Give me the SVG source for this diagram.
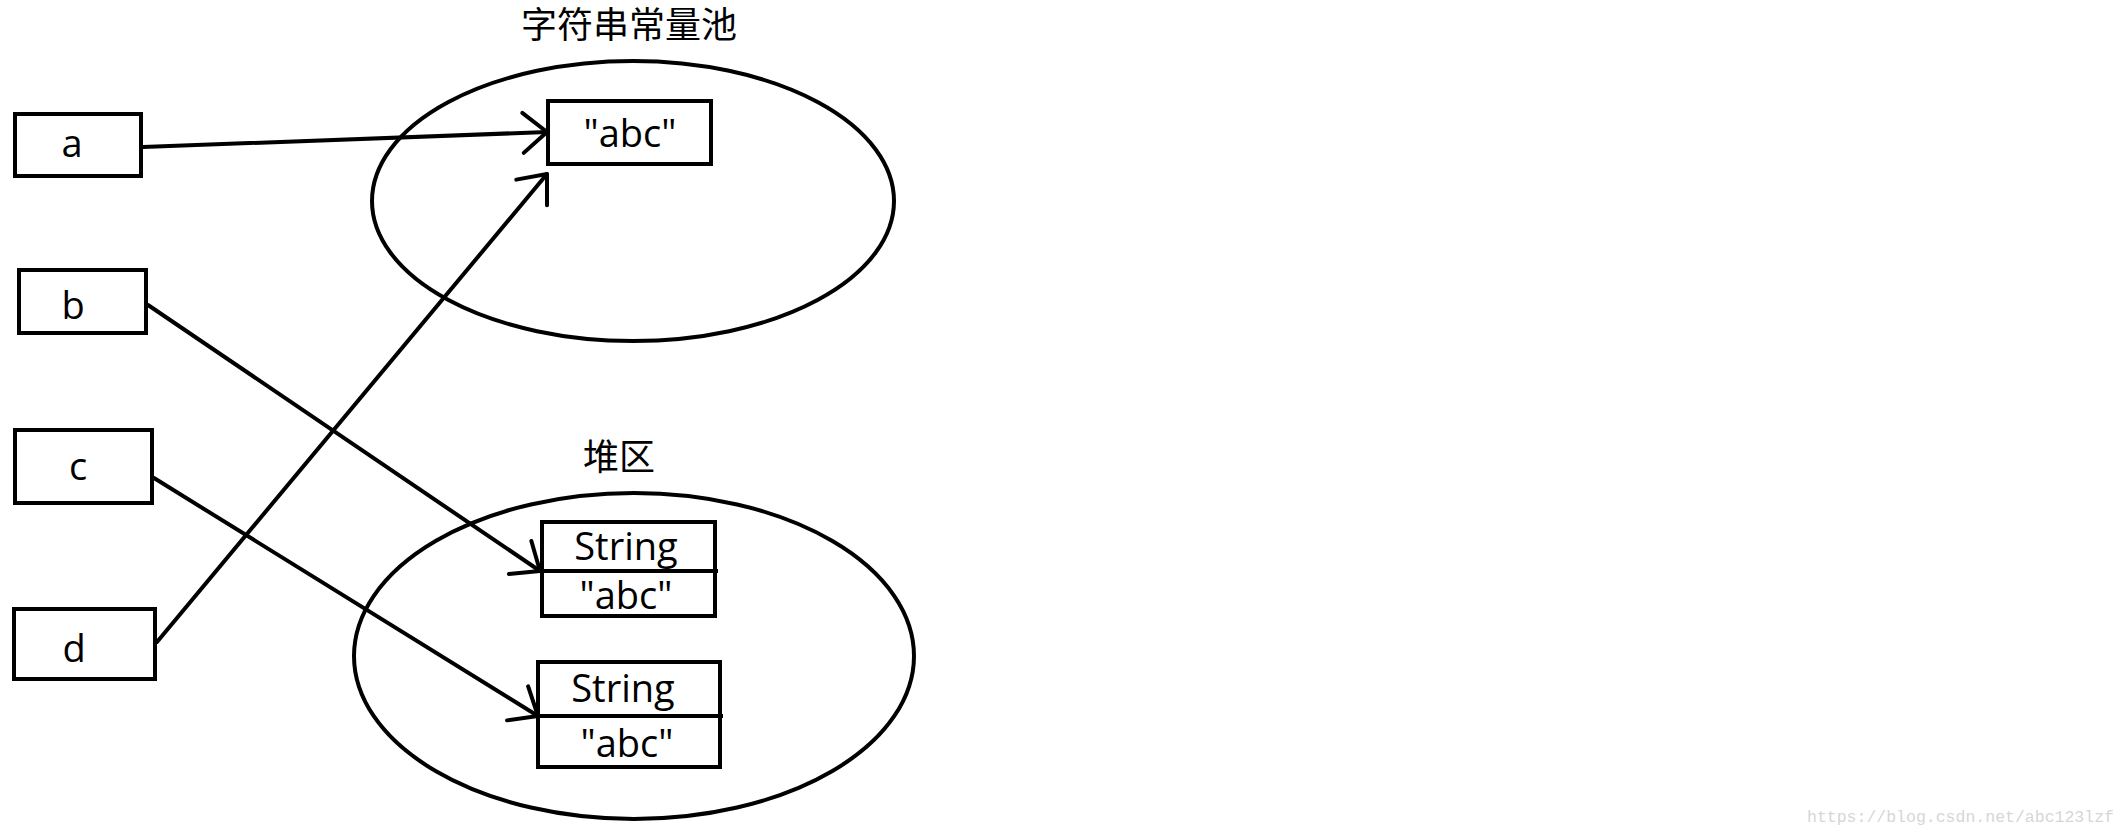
<svg xmlns="http://www.w3.org/2000/svg" width="2127" height="836" viewBox="0 0 2127 836">
  <style>
    .box { fill: #fff; stroke: #000; stroke-width: 4; }
    .pool { fill: none; stroke: #000; stroke-width: 4; }
    .lbl { font-family: "Open Sans", "Noto Sans", "Liberation Sans", sans-serif; font-size: 38px; fill: #000; text-anchor: middle; }
    .cjk { font-family: "Noto Sans CJK SC", "Noto Sans", sans-serif; font-size: 36px; fill: #000; text-anchor: middle; }
    .conn { fill: none; stroke: #000; stroke-width: 4; stroke-linecap: round; marker-end: url(#arrow); }
    .wm { font-family: "Liberation Mono", monospace; font-size: 16.5px; fill: #d6d6d6; }
  </style>
  <defs>
    <marker id="arrow" markerUnits="userSpaceOnUse" orient="auto" refX="0" refY="0" markerWidth="40" markerHeight="50" overflow="visible">
      <path d="M-24,-20 L0,0 L-24,20" fill="none" stroke="#000" stroke-width="4" stroke-linecap="round" stroke-linejoin="round"/>
    </marker>
  </defs>
  <rect width="2127" height="836" fill="#fff"/>

  <g id="string-pool">
    <ellipse class="pool" cx="633" cy="201" rx="261" ry="140"/>
    <text class="cjk" x="629" y="38">字符串常量池</text>
  </g>
  <g id="heap">
    <ellipse class="pool" cx="634" cy="656" rx="280" ry="163"/>
    <text class="cjk" x="619" y="470">堆区</text>
  </g>

  <g id="node-a">
    <rect class="box" x="15" y="114" width="126" height="62"/>
    <text class="lbl" x="72" y="157">a</text>
  </g>
  <g id="node-b">
    <rect class="box" x="19" y="270" width="127" height="63"/>
    <text class="lbl" x="73" y="319">b</text>
  </g>
  <g id="node-c">
    <rect class="box" x="15" y="430" width="137" height="73"/>
    <text class="lbl" x="78" y="480">c</text>
  </g>
  <g id="node-d">
    <rect class="box" x="14" y="609" width="141" height="70"/>
    <text class="lbl" x="74" y="662">d</text>
  </g>

  <g id="pool-abc">
    <rect class="box" x="548" y="101" width="163" height="63"/>
    <text class="lbl" x="630" y="147">"abc"</text>
  </g>

  <g id="heap-obj-1">
    <rect class="box" x="542" y="522" width="173" height="94"/>
    <line x1="542" y1="571" x2="718" y2="571" stroke="#000" stroke-width="4"/>
    <text class="lbl" x="626" y="560">String</text>
    <text class="lbl" x="626" y="609">"abc"</text>
  </g>
  <g id="heap-obj-2">
    <rect class="box" x="538" y="662" width="182" height="105"/>
    <line x1="538" y1="716" x2="723" y2="716" stroke="#000" stroke-width="4"/>
    <text class="lbl" x="623" y="702">String</text>
    <text class="lbl" x="627" y="757">"abc"</text>
  </g>

  <g id="connectors">
    <line class="conn" x1="143" y1="147" x2="547" y2="132"/>
    <line class="conn" x1="148" y1="305" x2="540" y2="571"/>
    <line class="conn" x1="154" y1="478" x2="538" y2="716"/>
    <line class="conn" x1="157" y1="642" x2="547" y2="174"/>
  </g>

  <text class="wm" x="1807" y="822">https://blog.csdn.net/abc123lzf</text>
</svg>
